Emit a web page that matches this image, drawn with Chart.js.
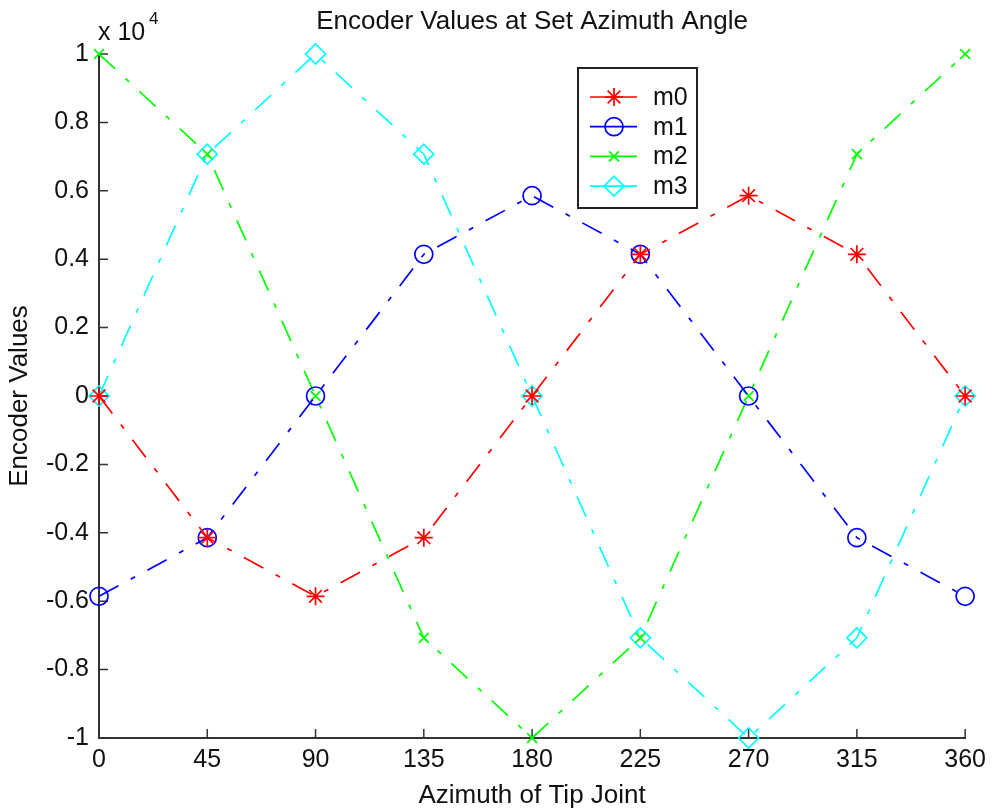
<!DOCTYPE html>
<html>
<head>
<meta charset="utf-8">
<title>Encoder Values at Set Azimuth Angle</title>
<script src="https://cdn.jsdelivr.net/npm/chart.js@4/dist/chart.umd.min.js"></script>
<style>
	html, body { margin: 0; padding: 0; background: #fff; }
	#wrap { width: 993px; height: 811px; }
</style>
</head>
<body>
<div id="wrap"><canvas id="myChart" width="993" height="811"></canvas></div>
<script>
var angles = [0, 45, 90, 135, 180, 225, 270, 315, 360];
var m0 = [0, -4142, -5858, -4142, 0, 4142, 5858, 4142, 0];
var m1 = [-5858, -4142, 0, 4142, 5858, 4142, 0, -4142, -5858];
var m2 = [10000, 7071, 0, -7071, -10000, -7071, 0, 7071, 10000];
var m3 = [0, 7071, 10000, 7071, 0, -7071, -10000, -7071, 0];
var seriesNames = ["m0", "m1", "m2", "m3"];
var yTicks = [-10000, -8000, -6000, -4000, -2000, 0, 2000, 4000, 6000, 8000, 10000];
var chartTitle = "Encoder Values at Set Azimuth Angle";

var FONT = "'Liberation Sans', Arial, sans-serif";
var AXIS = "#333333";

function toPoints(ys) {
	return angles.map(function (a, i) { return { x: a, y: ys[i] }; });
}

function series(label, ys, color, style, radius) {
	return {
		label: label,
		data: toPoints(ys),
		borderColor: color,
		backgroundColor: "rgba(0,0,0,0)",
		borderWidth: 1.7,
		borderDash: [22, 14, 5, 14],
		pointStyle: style,
		pointRadius: radius,
		pointBorderColor: color,
		pointBackgroundColor: "rgba(0,0,0,0)",
		pointBorderWidth: 1.7,
		tension: 0,
		clip: false,
	};
}

// inward MATLAB-style ticks, title over the axes, exponent note and boxed legend
var matlabBits = {
	id: "matlabBits",
	beforeDatasetsDraw: function (chart) {
		const ctx = chart.ctx;
		const xs = chart.scales.x;
		const ys = chart.scales.y;
		const area = chart.chartArea;
		ctx.save();
		ctx.strokeStyle = AXIS;
		ctx.lineWidth = 1.5;
		ctx.beginPath();
		angles.forEach(function (a) {
			const px = xs.getPixelForValue(a);
			ctx.moveTo(px, area.bottom);
			ctx.lineTo(px, area.bottom - 9);
		});
		yTicks.forEach(function (v) {
			const py = ys.getPixelForValue(v);
			ctx.moveTo(area.left, py);
			ctx.lineTo(area.left + 9, py);
		});
		ctx.stroke();
		ctx.restore();
	},
	afterDraw: function (chart) {
		const ctx = chart.ctx;
		const area = chart.chartArea;
		ctx.save();
		// title, centred on the axes
		ctx.fillStyle = "#111";
		ctx.textAlign = "center";
		ctx.textBaseline = "middle";
		ctx.font = "26px " + FONT;
		ctx.fillText(chartTitle, (area.left + area.right) / 2, 22);

		// x 10^4
		ctx.textBaseline = "alphabetic";
		ctx.textAlign = "left";
		ctx.font = "25px " + FONT;
		ctx.fillText("x 10", area.left - 1, 40);
		ctx.font = "17px " + FONT;
		ctx.fillText("4", area.left + 50, 24);

		// legend
		const bx = 578, by = 68, bw = 119, bh = 140;
		ctx.fillStyle = "#fff";
		ctx.fillRect(bx, by, bw, bh);
		ctx.strokeStyle = "#222";
		ctx.lineWidth = 2;
		ctx.strokeRect(bx, by, bw, bh);
		ctx.font = "25px " + FONT;
		ctx.textBaseline = "middle";
		chart.data.datasets.forEach(function (ds, i) {
			const cy = 97 + i * 29.7;
			ctx.strokeStyle = ds.borderColor;
			ctx.lineWidth = 1.7;
			ctx.setLineDash([]);
			ctx.beginPath();
			ctx.moveTo(590, cy);
			ctx.lineTo(637, cy);
			ctx.stroke();
			ctx.fillStyle = "rgba(0,0,0,0)";
			Chart.helpers.drawPoint(ctx, {
				pointStyle: ds.pointStyle,
				radius: ds.pointRadius,
				rotation: 0,
				borderWidth: 1.7,
			}, 614, cy);
			ctx.fillStyle = "#111";
			ctx.fillText(ds.label, 653, cy + 1);
		});
		ctx.restore();
	},
};

new Chart("myChart", {
	type: "line",
	data: {
		datasets: [
			series(seriesNames[0], m0, "#ff0000", "star", 9),
			series(seriesNames[1], m1, "#0000ff", "circle", 9),
			series(seriesNames[2], m2, "#00ff00", "crossRot", 7),
			series(seriesNames[3], m3, "#00ffff", "rectRot", 10),
		],
	},
	options: {
		responsive: false,
		animation: false,
		layout: { padding: { left: 4, right: 26, top: 54, bottom: 0 } },
		plugins: {
			legend: { display: false },
			tooltip: { enabled: false },
			title: { display: false },
		},
		scales: {
			x: {
				type: "linear",
				min: 0,
				max: 360,
				afterFit: function (s) { s.height = 73; },
				afterBuildTicks: function (s) {
					s.ticks = angles.map(function (a) { return { value: a }; });
				},
				grid: { display: false, drawTicks: false },
				border: { display: true, color: AXIS, width: 2 },
				ticks: {
					color: "#111",
					font: { family: FONT, size: 25 },
					padding: 7,
					maxRotation: 0,
				},
				title: {
					display: true,
					text: "Azimuth of Tip Joint",
					color: "#111",
					font: { family: FONT, size: 26 },
					padding: 0,
				},
			},
			y: {
				type: "linear",
				min: -10000,
				max: 10000,
				afterFit: function (s) { s.width = 95; },
				afterBuildTicks: function (s) {
					s.ticks = yTicks.map(function (v) { return { value: v }; });
				},
				grid: { display: false, drawTicks: false },
				border: { display: true, color: AXIS, width: 2 },
				ticks: {
					color: "#111",
					font: { family: FONT, size: 25 },
					padding: 10,
					callback: function (v) {
						return String(Math.round(v / 1000) / 10);
					},
				},
				title: {
					display: true,
					text: "Encoder Values",
					color: "#111",
					font: { family: FONT, size: 26 },
					padding: 0,
				},
			},
		},
	},
	plugins: [matlabBits],
});
</script>
</body>
</html>
